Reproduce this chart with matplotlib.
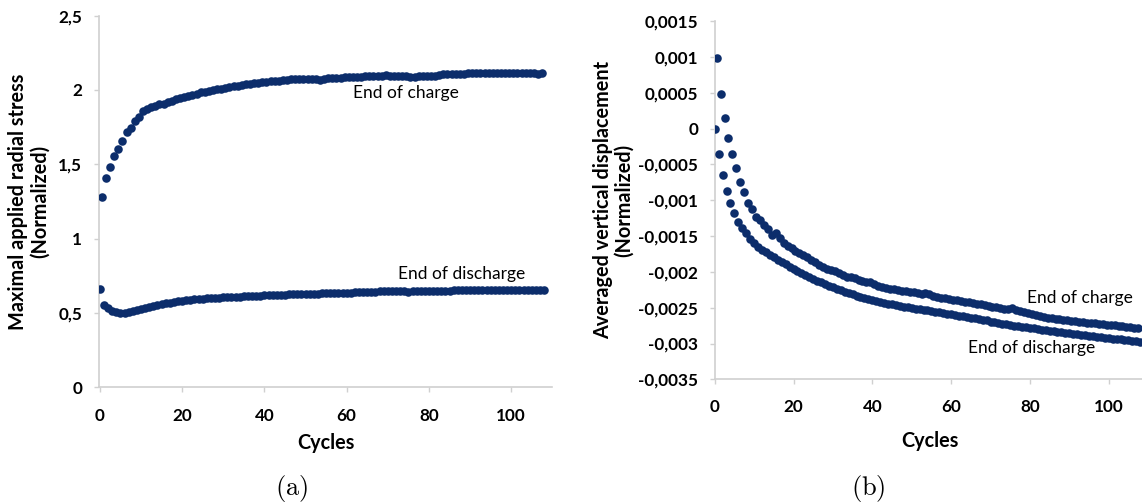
import numpy as np
import matplotlib
matplotlib.use("Agg")
import matplotlib.pyplot as plt

plt.rcParams['font.family'] = ['Lato', 'DejaVu Sans']
plt.rcParams['mathtext.fontset'] = 'cm'

# ---------------- data ----------------
# Panel (a): maximal applied radial stress (normalized)
stress_charge = [
    1.282, 1.410, 1.484, 1.556, 1.605, 1.655, 1.720, 1.742, 1.794, 1.821,
    1.859, 1.870, 1.884, 1.892, 1.908, 1.906, 1.917, 1.928, 1.937, 1.946,
    1.955, 1.962, 1.966, 1.971, 1.985, 1.987, 1.993, 1.998, 2.005, 2.009,
    2.013, 2.020, 2.025, 2.029, 2.032, 2.038, 2.040, 2.045, 2.049, 2.052,
    2.056, 2.058, 2.061, 2.063, 2.067, 2.070, 2.071, 2.072, 2.073, 2.074,
    2.075, 2.076, 2.072, 2.068, 2.074, 2.078, 2.080, 2.082, 2.083, 2.085,
    2.086, 2.086, 2.087, 2.089, 2.091, 2.092, 2.094, 2.095, 2.097, 2.098,
    2.097, 2.096, 2.094, 2.093, 2.092, 2.086, 2.090, 2.092, 2.093, 2.094,
    2.095, 2.097, 2.101, 2.104, 2.106, 2.107, 2.108, 2.109, 2.110, 2.111,
    2.113, 2.114, 2.115, 2.116, 2.116, 2.117, 2.117, 2.116, 2.115, 2.114,
    2.114, 2.113, 2.113, 2.112, 2.112, 2.111, 2.110, 2.111,
]
stress_discharge = [
    0.660, 0.556, 0.532, 0.516, 0.507, 0.502, 0.500, 0.507, 0.516, 0.523,
    0.529, 0.536, 0.543, 0.549, 0.556, 0.561, 0.566, 0.570, 0.574, 0.579,
    0.583, 0.586, 0.590, 0.592, 0.594, 0.597, 0.599, 0.600, 0.602, 0.603,
    0.605, 0.606, 0.608, 0.609, 0.610, 0.612, 0.613, 0.614, 0.616, 0.617,
    0.618, 0.619, 0.621, 0.622, 0.623, 0.624, 0.625, 0.626, 0.627, 0.628,
    0.629, 0.630, 0.631, 0.631, 0.632, 0.633, 0.634, 0.635, 0.636, 0.636,
    0.637, 0.638, 0.639, 0.640, 0.641, 0.642, 0.643, 0.644, 0.645, 0.646,
    0.647, 0.647, 0.647, 0.646, 0.645, 0.644, 0.645, 0.645, 0.646, 0.646,
    0.647, 0.648, 0.649, 0.650, 0.650, 0.651, 0.652, 0.652, 0.653, 0.654,
    0.654, 0.655, 0.655, 0.656, 0.656, 0.657, 0.657, 0.657, 0.657, 0.657,
    0.657, 0.656, 0.656, 0.656, 0.656, 0.656, 0.656, 0.656, 0.657,
]

# Panel (b): averaged vertical displacement (normalized), in units of 1e-3
disp_charge_milli = [
    0.987, 0.489, 0.145, -0.126, -0.349, -0.545, -0.749, -0.884, -1.038, -1.126,
    -1.233, -1.280, -1.349, -1.401, -1.480, -1.461, -1.527, -1.596, -1.634, -1.666,
    -1.704, -1.732, -1.764, -1.792, -1.830, -1.867, -1.899, -1.932, -1.955, -1.974,
    -1.987, -2.020, -2.048, -2.067, -2.071, -2.090, -2.113, -2.131, -2.145, -2.141,
    -2.173, -2.201, -2.215, -2.229, -2.235, -2.245, -2.254, -2.263, -2.271, -2.279,
    -2.287, -2.300, -2.308, -2.296, -2.310, -2.340, -2.350, -2.360, -2.370, -2.380,
    -2.390, -2.398, -2.406, -2.415, -2.425, -2.435, -2.445, -2.455, -2.464, -2.472,
    -2.485, -2.495, -2.505, -2.512, -2.520, -2.498, -2.528, -2.545, -2.560, -2.575,
    -2.590, -2.602, -2.612, -2.625, -2.638, -2.648, -2.655, -2.662, -2.670, -2.677,
    -2.685, -2.692, -2.698, -2.704, -2.709, -2.714, -2.719, -2.724, -2.730, -2.736,
    -2.742, -2.748, -2.754, -2.760, -2.766, -2.772, -2.778, -2.785,
]
disp_discharge_milli = [
    0.000, -0.349, -0.647, -0.870, -1.042, -1.182, -1.299, -1.391, -1.461, -1.541,
    -1.596, -1.648, -1.690, -1.726, -1.764, -1.796, -1.830, -1.862, -1.894, -1.927,
    -1.964, -1.992, -2.015, -2.043, -2.071, -2.099, -2.123, -2.145, -2.169, -2.193,
    -2.215, -2.235, -2.257, -2.278, -2.296, -2.314, -2.331, -2.347, -2.362, -2.377,
    -2.391, -2.405, -2.418, -2.430, -2.442, -2.453, -2.464, -2.475, -2.485, -2.494,
    -2.503, -2.512, -2.520, -2.528, -2.537, -2.546, -2.555, -2.564, -2.573, -2.582,
    -2.591, -2.600, -2.609, -2.618, -2.627, -2.637, -2.647, -2.657, -2.666, -2.675,
    -2.696, -2.705, -2.714, -2.723, -2.732, -2.741, -2.749, -2.757, -2.765, -2.773,
    -2.781, -2.789, -2.797, -2.805, -2.813, -2.821, -2.829, -2.837, -2.845, -2.852,
    -2.859, -2.866, -2.873, -2.880, -2.887, -2.894, -2.901, -2.907, -2.913, -2.919,
    -2.925, -2.931, -2.937, -2.943, -2.949, -2.955, -2.961, -2.967, -2.973,
]

# cycle numbers: end of charge at half cycles, end of discharge at whole cycles
cycles_charge_a = np.arange(len(stress_charge)) + 0.5
cycles_discharge_a = np.arange(len(stress_discharge))
cycles_charge_b = np.arange(len(disp_charge_milli)) + 0.5
cycles_discharge_b = np.arange(len(disp_discharge_milli))

x_ticks = [0, 20, 40, 60, 80, 100]
a_yticks = [0, 0.5, 1, 1.5, 2, 2.5]
a_yticklabels = ['0', '0,5', '1', '1,5', '2', '2,5']
b_yticks = [-0.0035, -0.003, -0.0025, -0.002, -0.0015, -0.001, -0.0005, 0, 0.0005, 0.001, 0.0015]
b_yticklabels = ['-0,0035', '-0,003', '-0,0025', '-0,002', '-0,0015', '-0,001',
                 '-0,0005', '0', '0,0005', '0,001', '0,0015']

# ---------------- styling ----------------
W, H = 1142, 504
fig = plt.figure(figsize=(W / 100, H / 100), dpi=100)

DOT = '#0c2d6b'
SPINE = '#d0d0d0'
MS = 38
TICK_FS = 12.3
LABEL_FS = 14.3
NOTE_FS = 12.5


def px_axes(left, right, top, bottom):
    return fig.add_axes([left / W, 1 - bottom / H, (right - left) / W, (bottom - top) / H])


def style(ax):
    for s in ('top', 'right'):
        ax.spines[s].set_visible(False)
    for s in ('left', 'bottom'):
        ax.spines[s].set_color(SPINE)
        ax.spines[s].set_linewidth(1.2)
    ax.tick_params(axis='both', colors=SPINE, length=3.5, width=1.0,
                   labelcolor='black', labelsize=TICK_FS)
    ax.tick_params(axis='y', pad=8.5)
    ax.tick_params(axis='x', pad=11)
    for lab in ax.get_xticklabels() + ax.get_yticklabels():
        lab.set_fontweight('bold')


# Panel (a)
axa = px_axes(99, 552.4, 15.6, 387.4)
axa.scatter(cycles_charge_a, stress_charge, s=MS, color=DOT, linewidths=0, zorder=3)
axa.scatter(cycles_discharge_a, stress_discharge, s=MS, color=DOT, linewidths=0, zorder=3)
axa.set_xlim(-0.2, 110)
axa.set_ylim(0, 2.5)
axa.set_xticks(x_ticks)
axa.set_yticks(a_yticks)
axa.set_yticklabels(a_yticklabels)
style(axa)
axa.set_xlabel('Cycles', fontsize=LABEL_FS, fontweight='bold')
axa.xaxis.set_label_coords(0.5, -0.149)
axa.xaxis.label.set_va('center')
axa.set_ylabel('Maximal applied radial stress\n(Normalized)', fontsize=LABEL_FS,
               fontweight='bold', linespacing=1.1)
axa.yaxis.set_label_coords(-0.155, 0.5)
axa.yaxis.label.set_va('center')
axa.text(74.4, 1.98, 'End of charge', ha='center', va='center', fontsize=NOTE_FS)
axa.text(88, 0.763, 'End of discharge', ha='center', va='center', fontsize=NOTE_FS)

# Panel (b)
axb = px_axes(714.7, 1142, 21.3, 379.3)
axb.scatter(cycles_charge_b, np.array(disp_charge_milli) * 1e-3, s=MS, color=DOT,
            linewidths=0, zorder=3)
axb.scatter(cycles_discharge_b, np.array(disp_discharge_milli) * 1e-3, s=MS, color=DOT,
            linewidths=0, zorder=3)
axb.set_xlim(0, 108.45)
axb.set_ylim(-0.0035, 0.0015)
axb.set_xticks(x_ticks)
axb.set_yticks(b_yticks)
axb.set_yticklabels(b_yticklabels)
style(axb)
axb.set_xlabel('Cycles', fontsize=LABEL_FS, fontweight='bold')
axb.xaxis.set_label_coords(0.504, -0.172)
axb.xaxis.label.set_va('center')
axb.set_ylabel('Averaged vertical displacement\n(Normalized)', fontsize=LABEL_FS,
               fontweight='bold', linespacing=1.1)
axb.yaxis.set_label_coords(-0.237, 0.5)
axb.yaxis.label.set_va('center')
axb.text(92.8, -0.002369, 'End of charge', ha='center', va='center', fontsize=NOTE_FS)
axb.text(80.4, -0.003067, 'End of discharge', ha='center', va='center', fontsize=NOTE_FS)

# captions
fig.text(292 / W, 1 - 488 / H, r'$\mathrm{(a)}$', ha='center', va='center', fontsize=19)
fig.text(868 / W, 1 - 488 / H, r'$\mathrm{(b)}$', ha='center', va='center', fontsize=19)

fig.savefig('out.png', dpi=100)
